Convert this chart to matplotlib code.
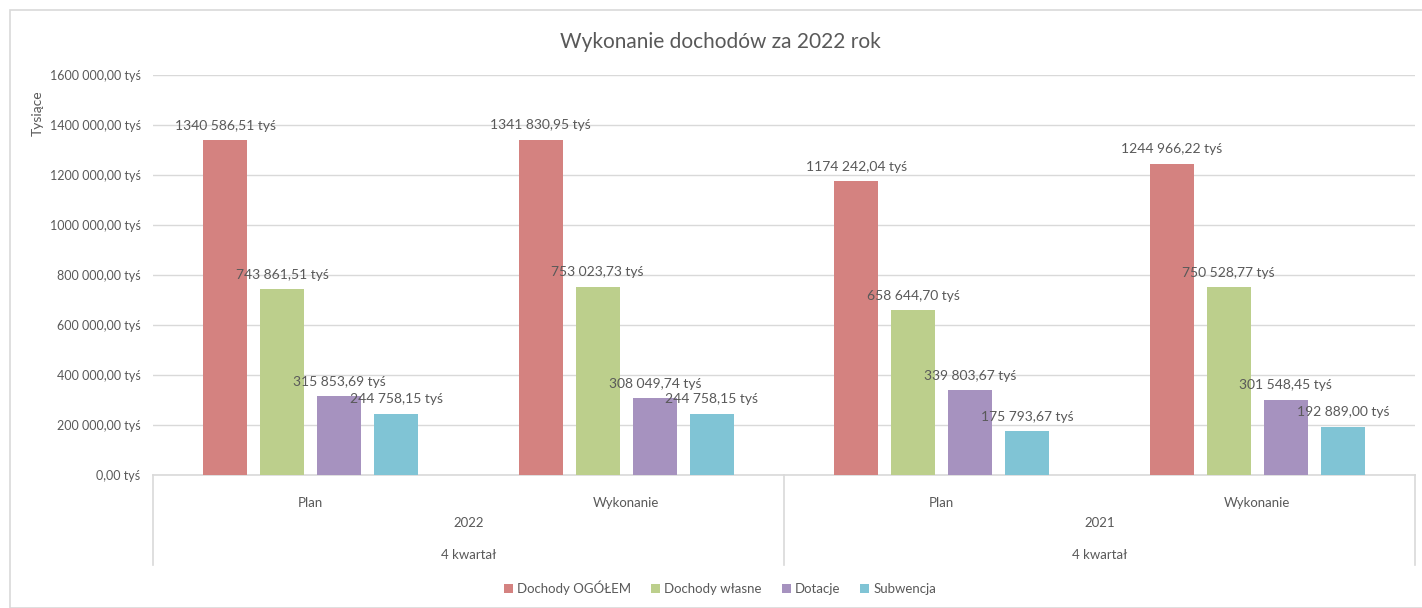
import matplotlib.pyplot as plt
from matplotlib.patches import Rectangle
from matplotlib.lines import Line2D
import numpy as np

plt.rcParams["font.family"] = ["Lato", "DejaVu Sans"]

TEXT = "#595959"
GRID = "#D9D9D9"

periods = ["Plan", "Wykonanie", "Plan", "Wykonanie"]
years = ["2022", "2021"]
quarter = "4 kwartał"

series_names = ["Dochody OGÓŁEM", "Dochody własne", "Dotacje", "Subwencja"]
colors = ["#D48280", "#BCCF8C", "#A692BF", "#80C4D5"]

ogolem = [1340586.51, 1341830.95, 1174242.04, 1244966.22]
wlasne = [743861.51, 753023.73, 658644.70, 750528.77]
dotacje = [315853.69, 308049.74, 339803.67, 301548.45]
subwencja = [244758.15, 244758.15, 175793.67, 192889.00]


def fmt(v):
    # Excel-style "### ###,00": only the last group of three is separated
    whole = int(v)
    frac = f"{v - whole:.2f}"[2:]
    if whole >= 1000:
        s = f"{whole // 1000} {whole % 1000:03d}"
    else:
        s = str(whole)
    return f"{s},{frac} tyś"


fig = plt.figure(figsize=(14.22, 6.08), dpi=100)
W, H = 1422, 608

# outer chart border
fig.patches.append(Rectangle((10 / W, 0), 1.2, 1 - 10 / H, transform=fig.transFigure,
                             fill=False, edgecolor=GRID, linewidth=1.2))

ax = fig.add_axes([153 / W, (H - 475) / H, (1415 - 153) / W, 400 / H])

x = np.arange(len(periods))
step = 0.1807
width = 0.1395
for i, (name, vals) in enumerate(zip(series_names, [ogolem, wlasne, dotacje, subwencja])):
    xs = x + (i - 1.5) * step
    ax.bar(xs, vals, width, color=colors[i], label=name, zorder=3)
    for xi, v in zip(xs, vals):
        ax.annotate(fmt(v), (xi, v), xytext=(0, 6), textcoords="offset points",
                    ha="center", va="bottom", fontsize=10, color=TEXT, zorder=4)

ax.set_xlim(-0.5, 3.5)
ax.set_ylim(0, 1600000)
yt = np.arange(0, 1600001, 200000)
ax.set_yticks(yt)
ax.set_yticklabels([fmt(v) for v in yt])
ax.tick_params(axis="y", length=0, pad=9, labelsize=9, labelcolor=TEXT)
ax.set_xticks([])
ax.yaxis.grid(True, color=GRID, linewidth=1, zorder=0)
for s in ["top", "right", "left"]:
    ax.spines[s].set_visible(False)
ax.spines["bottom"].set_color(GRID)
ax.spines["bottom"].set_linewidth(1.2)

# multi-level category axis
tr = ax.get_xaxis_transform()
for xi, p in zip(x, periods):
    ax.text(xi, -0.07, p, transform=tr, ha="center", va="center", fontsize=9.5, color=TEXT)
for k, yr in enumerate(years):
    cx = 0.5 + 2 * k
    ax.text(cx, -0.12, yr, transform=tr, ha="center", va="center", fontsize=9.5, color=TEXT)
    ax.text(cx, -0.20, quarter, transform=tr, ha="center", va="center", fontsize=9.5, color=TEXT)
for sx in [-0.5, 1.5, 3.5]:
    ax.add_line(Line2D([sx, sx], [0, -0.225], transform=tr, color=GRID, linewidth=1.2,
                       clip_on=False))

fig.text(38 / W, 1 - 113 / H, "Tysiące", rotation=90, ha="center", va="center",
         fontsize=10, color=TEXT)
fig.text(720 / W, 1 - 42 / H, "Wykonanie dochodów za 2022 rok", ha="center", va="center",
         fontsize=15, color=TEXT)

fig.legend(loc="center", bbox_to_anchor=(720 / W, 1 - 588 / H), ncol=4, frameon=False,
           fontsize=9.5, labelcolor=TEXT, handlelength=0.7, handleheight=0.7,
           handletextpad=0.3, columnspacing=1.5)

fig.savefig("out.png", dpi=100)
